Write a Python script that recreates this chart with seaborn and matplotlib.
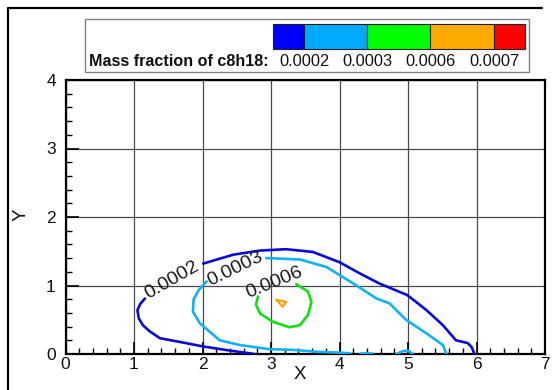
import matplotlib
matplotlib.use("Agg")
import numpy as np
import pandas as pd
import seaborn as sns
import matplotlib.pyplot as plt
from matplotlib.patches import Rectangle
from matplotlib.lines import Line2D
from matplotlib.ticker import MultipleLocator

# Contour levels of the c8h18 mass fraction and their colours
levels = [0.0002, 0.0003, 0.0006, 0.0007]
band_colors = ["#0000FF", "#00AAFF", "#00FF00", "#FFAA00", "#FF0000"]
line_colors = ["#0A0AD8", "#12B0F5", "#10E010", "#FFA000"]

# Iso-line traces (x, y) per level; each level may have several pieces
c0002_left_x = [1.16, 1.09, 1.05, 1.07, 1.13, 1.23, 1.38, 1.70, 2.01, 2.40, 2.76]
c0002_left_y = [0.81, 0.73, 0.64, 0.52, 0.42, 0.33, 0.23, 0.17, 0.11, 0.05, 0.00]
c0002_top_x = [2.01, 2.45, 2.84, 3.22, 3.61, 4.00, 4.29, 4.58, 4.99, 5.27, 5.51, 5.70, 5.87, 5.93, 5.97]
c0002_top_y = [1.32, 1.45, 1.51, 1.53, 1.49, 1.34, 1.18, 1.03, 0.86, 0.64, 0.42, 0.20, 0.16, 0.10, 0.00]

c0003_left_x = [2.06, 1.95, 1.87, 1.86, 1.96, 2.25, 2.55, 2.98, 3.32, 3.70, 4.00, 4.15]
c0003_left_y = [1.06, 0.94, 0.80, 0.62, 0.45, 0.20, 0.13, 0.07, 0.06, 0.03, 0.02, 0.01]
c0003_top_x = [2.93, 3.42, 3.81, 4.20, 4.54, 4.73, 4.97, 5.27, 5.51, 5.56]
c0003_top_y = [1.40, 1.38, 1.27, 1.03, 0.81, 0.74, 0.50, 0.30, 0.13, 0.00]
c0003_dash_x = [4.30, 4.48]
c0003_dash_y = [0.01, 0.01]
c0003_bump_x = [4.83, 4.92, 5.00, 5.07]
c0003_bump_y = [0.00, 0.04, 0.05, 0.00]

c0006_x = [3.37, 3.54, 3.59, 3.54, 3.42, 3.27, 3.03, 2.84, 2.78, 2.81]
c0006_y = [1.02, 0.91, 0.76, 0.57, 0.42, 0.39, 0.47, 0.59, 0.72, 0.84]

c0007_x = [3.08, 3.22, 3.17, 3.08]
c0007_y = [0.79, 0.76, 0.69, 0.79]

# Inline contour labels: level index, anchor and angle
label_level = [0, 1, 2]
label_x = [1.56, 2.48, 3.05]
label_y = [1.08, 1.24, 1.04]
label_rot = [30, 26, 22]

x_ticks = [0, 1, 2, 3, 4, 5, 6, 7]
y_ticks = [0, 1, 2, 3, 4]

pieces = [
    (0, c0002_left_x, c0002_left_y),
    (0, c0002_top_x, c0002_top_y),
    (1, c0003_left_x, c0003_left_y),
    (1, c0003_top_x, c0003_top_y),
    (1, c0003_dash_x, c0003_dash_y),
    (1, c0003_bump_x, c0003_bump_y),
    (2, c0006_x, c0006_y),
    (3, c0007_x, c0007_y),
]
rows = []
for seg, (lev, xs, ys) in enumerate(pieces):
    for xv, yv in zip(xs, ys):
        rows.append({"x": xv, "y": yv, "seg": seg, "level": lev})
df = pd.DataFrame(rows)

sns.set_theme(style="white")
plt.rcParams["font.family"] = ["Liberation Sans", "DejaVu Sans"]

W, H = 557, 390
fig = plt.figure(figsize=(W / 100, H / 100), dpi=100)
fig.patch.set_facecolor("white")

def fx(px):
    return px / W

def fy(py):
    return 1 - py / H

ax = fig.add_axes([fx(65.5), fy(354), (545 - 65.5) / W, (354 - 80) / H])
ax.set_facecolor("white")

for lev in range(len(levels)):
    sub = df[df["level"] == lev]
    sns.lineplot(data=sub, x="x", y="y", units="seg", estimator=None, sort=False,
                 color=line_colors[lev], lw=1.9 if lev < 3 else 1.6,
                 legend=False, ax=ax, zorder=3)

for lev, lx, ly, rot in zip(label_level, label_x, label_y, label_rot):
    ax.text(lx, ly, f"{levels[lev]:.4f}", rotation=rot, rotation_mode="anchor",
            ha="center", va="center", fontsize=14, color="#1a1a1a", zorder=4)

ax.set_xlim(0, 7)
ax.set_ylim(0, 4)
ax.set_xticks(x_ticks)
ax.set_yticks(y_ticks)
ax.set_xticklabels([str(t) for t in x_ticks])
ax.set_yticklabels([str(t) for t in y_ticks])
ax.xaxis.set_minor_locator(MultipleLocator(0.2))
ax.yaxis.set_minor_locator(MultipleLocator(0.2))
ax.tick_params(which="both", direction="in", top=False, right=False,
               bottom=True, left=True, color="black", labelsize=12.5,
               labelcolor="#111111")
ax.tick_params(which="major", length=9, width=1.2)
ax.tick_params(which="minor", length=4.5, width=1.0)
ax.tick_params(axis="x", which="major", pad=2)
ax.tick_params(axis="y", which="major", pad=7)
ax.grid(True, which="major", color="#4a4a4a", lw=0.9)
for sp in ax.spines.values():
    sp.set_visible(True)
    sp.set_color("black")
    sp.set_linewidth(1.6)

ax.set_xlabel("X", fontsize=13.5, color="#111111")
ax.set_ylabel("Y", fontsize=13.5, color="#111111")
ax.xaxis.set_label_coords((300 - 65.5) / 479.5, -0.045)
ax.yaxis.set_label_coords((30 - 65.5) / 479.5, 0.51)

# Outer frame (left and top edges)
fig.add_artist(Line2D([fx(8), fx(8), fx(542)], [0, fy(7.5), fy(7.5)],
                      color="black", lw=1.6, transform=fig.transFigure))

# Colour legend box
fig.add_artist(Rectangle((fx(85), fy(72)), fx(529) - fx(85), fy(19) - fy(72),
                         transform=fig.transFigure, facecolor="white",
                         edgecolor="#808080", lw=1.0))
edges = [273, 304, 367, 430, 494, 525]
for i, c in enumerate(band_colors):
    fig.add_artist(Rectangle((fx(edges[i]), fy(48.5)), fx(edges[i + 1]) - fx(edges[i]),
                             fy(23.5) - fy(48.5), transform=fig.transFigure,
                             facecolor=c, edgecolor="#202020", lw=0.8))
fig.text(fx(89), fy(62), "Mass fraction of c8h18:", ha="left", va="center",
         fontsize=11.6, fontweight="bold", color="#111111")
for i, v in enumerate(levels):
    fig.text(fx(edges[i + 1]), fy(62), f"{v:.4f}", ha="center", va="center",
             fontsize=11.8, color="#111111")

fig.savefig("out.png", dpi=100, facecolor="white")
